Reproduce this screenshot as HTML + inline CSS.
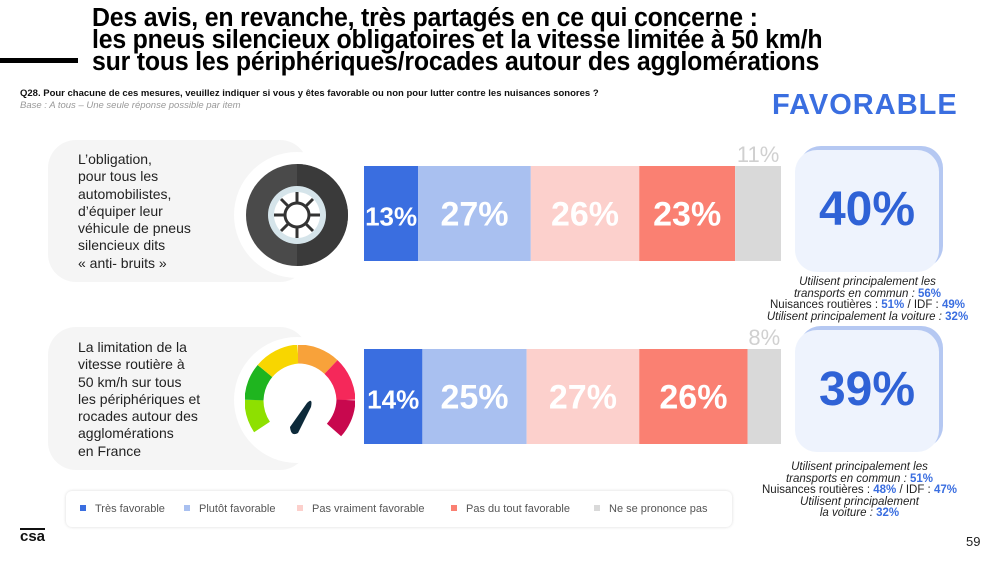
<!DOCTYPE html>
<html><head><meta charset="utf-8">
<style>
body{margin:0;width:999px;height:562px;background:#fff;position:relative;overflow:hidden;font-family:"Century Gothic","Liberation Sans","DejaVu Sans",sans-serif;}
.abs{position:absolute;}
.title{left:92px;top:7px;font-size:24.5px;font-weight:bold;line-height:21px;color:#000;letter-spacing:-0.2px;font-family:"Liberation Sans",sans-serif;transform:scale(1.015,1.05);transform-origin:left top;}
.q{left:20px;top:88px;font-size:9.5px;font-weight:bold;color:#111;font-family:"Liberation Sans",sans-serif;}
.base{left:20px;top:100px;font-size:9.5px;font-style:italic;color:#999;font-family:"Liberation Sans",sans-serif;}
.fav{left:772px;top:89px;font-size:29px;font-weight:bold;color:#3a6ee0;letter-spacing:1px;font-family:"Liberation Sans",sans-serif;}
.panel{background:#f5f5f5;border-radius:28px;}
.lbl{font-size:14px;line-height:17.3px;color:#222;font-family:"Liberation Sans",sans-serif;}
.iconbg{background:#fff;border-radius:50%;}
.box{background:#eef3fd;border-radius:22px;box-shadow:4px -4px 0 #b5c8f2;}
.big{font-size:48px;font-weight:bold;color:#2f62d6;text-align:center;font-family:"Liberation Sans",sans-serif;}
.note{font-size:11.5px;line-height:11.5px;color:#222;text-align:center;font-family:"Liberation Sans",sans-serif;}
.note i{font-style:italic}
.note b{color:#3a6ee0}
.legend{left:66px;top:491px;width:666px;height:36px;border-radius:6px;box-shadow:0 0 3px rgba(0,0,0,0.15);background:#fff;}
.li{position:absolute;top:12px;font-size:11px;color:#555;font-family:"Liberation Sans",sans-serif;}
.li span{display:inline-block;width:6px;height:6px;margin-right:9px;vertical-align:1px;}
</style></head><body>
<div class="abs" style="left:0;top:58px;width:78px;height:5px;background:#000"></div>
<div class="abs title">Des avis, en revanche, très partagés en ce qui concerne :<br>les pneus silencieux obligatoires et la vitesse limitée à 50 km/h<br>sur tous les périphériques/rocades autour des agglomérations</div>
<div class="abs q">Q28. Pour chacune de ces mesures, veuillez indiquer si vous y êtes favorable ou non pour lutter contre les nuisances sonores ?</div>
<div class="abs base">Base : A tous – Une seule réponse possible par item</div>
<div class="abs fav">FAVORABLE</div>

<div class="abs panel" style="left:48px;top:140px;width:260px;height:142px"></div>
<div class="abs lbl" style="left:78px;top:151px">L’obligation,<br>pour tous les<br>automobilistes,<br>d’équiper leur<br>véhicule de pneus<br>silencieux dits<br>« anti- bruits »</div>
<div class="abs iconbg" style="left:234px;top:152px;width:126px;height:126px"></div>
<svg class="abs" style="left:245px;top:160px" width="110" height="110" viewBox="0 0 110 110">
<circle cx="52" cy="55" r="51" fill="#4a4a4a"/><path d="M52 4 A51 51 0 0 1 52 106Z" fill="#3a3a3a"/>
<circle cx="52" cy="55" r="29" fill="#d5e4ea"/><circle cx="52" cy="55" r="23" fill="#fff"/>
<g stroke="#333" stroke-width="3"><line x1="29" y1="55" x2="75" y2="55"/><line x1="52" y1="32" x2="52" y2="78"/><line x1="36" y1="39" x2="68" y2="71"/><line x1="68" y1="39" x2="36" y2="71"/></g>
<circle cx="52" cy="55" r="12" fill="#fff" stroke="#333" stroke-width="3"/></svg>

<div class="abs panel" style="left:48px;top:327px;width:260px;height:143px"></div>
<div class="abs lbl" style="left:78px;top:339px">La limitation de la<br>vitesse routière à<br>50 km/h sur tous<br>les périphériques et<br>rocades autour des<br>agglomérations<br>en France</div>
<div class="abs iconbg" style="left:234px;top:337px;width:126px;height:126px"></div>
<svg class="abs" style="left:245px;top:345px" width="110" height="100" viewBox="0 0 110 100">
<g fill="none" stroke-width="19">
<path d="M17 82 A48 48 0 0 1 9 55" stroke="#8ee000"/><path d="M9 55 A48 48 0 0 1 20 26" stroke="#1fb51f"/>
<path d="M20 26 A48 48 0 0 1 53 9" stroke="#f8d600"/><path d="M53 9 A48 48 0 0 1 86 22" stroke="#f8a23a"/>
<path d="M86 22 A48 48 0 0 1 101 55" stroke="#f5285a"/><path d="M101 55 A48 48 0 0 1 89 85" stroke="#c8084e"/></g>
<path d="M45 82 L62 58 Q68 52 66 62 L53 88 Q46 92 45 82Z" fill="#0d2a3a"/></svg>

<svg class="abs" style="left:0;top:0" width="999" height="562" id="chart"></svg>

<div class="abs box" style="left:795px;top:150px;width:144px;height:122px"></div>
<div class="abs big" style="left:795px;top:182px;width:144px">40%</div>
<div class="abs box" style="left:795px;top:330px;width:144px;height:122px"></div>
<div class="abs big" style="left:795px;top:362px;width:144px">39%</div>

<div class="abs note" style="left:740px;top:277px;width:255px"><i>Utilisent principalement les<br>transports en commun : </i><b>56%</b><br>Nuisances routières : <b>51%</b> / IDF : <b>49%</b><br><i>Utilisent principalement la voiture : </i><b>32%</b></div>
<div class="abs note" style="left:732px;top:462px;width:255px"><i>Utilisent principalement les<br>transports en commun : </i><b>51%</b><br>Nuisances routières : <b>48%</b> / IDF : <b>47%</b><br><i>Utilisent principalement<br>la voiture : </i><b>32%</b></div>

<div class="abs legend">
<div class="li" style="left:14px"><span style="background:#3a6ee0"></span>Très favorable</div>
<div class="li" style="left:118px"><span style="background:#a9c0f0"></span>Plutôt favorable</div>
<div class="li" style="left:231px"><span style="background:#fcd0cc"></span>Pas vraiment favorable</div>
<div class="li" style="left:385px"><span style="background:#fa8072"></span>Pas du tout favorable</div>
<div class="li" style="left:528px"><span style="background:#d9d9d9"></span>Ne se prononce pas</div>
</div>
<div class="abs" style="left:20px;top:528px;font-size:15px;font-weight:bold;color:#111;border-top:2px solid #111;line-height:14px;font-family:'Liberation Sans',sans-serif">csa</div>
<div class="abs" style="left:966px;top:534px;font-size:13px;color:#222;font-family:'Liberation Sans',sans-serif">59</div>

<script>
const items = ["pneus", "vitesse"];
const tresFav = [13, 14];
const plutotFav = [27, 25];
const pasVraiment = [26, 27];
const pasDuTout = [23, 26];
const nsp = [11, 8];
const series = [tresFav, plutotFav, pasVraiment, pasDuTout, nsp];
const seriesNames = ["tres-favorable","plutot-favorable","pas-vraiment","pas-du-tout","ne-se-prononce"];
const colors = ["#3a6ee0","#a9c0f0","#fcd0cc","#fa8072","#d9d9d9"];
const x0 = 364, pxPer = 4.17;
const rowTop = [166, 349], barH = 95;
const xs = v => x0 + v * pxPer;
const svg = document.getElementById('chart');
const NS = "http://www.w3.org/2000/svg";
items.forEach((it, i) => {
  let acc = 0;
  series.forEach((s, k) => {
    const v = s[i];
    const r = document.createElementNS(NS, 'rect');
    r.setAttribute('x', xs(acc)); r.setAttribute('y', rowTop[i]);
    r.setAttribute('width', v * pxPer); r.setAttribute('height', barH);
    r.setAttribute('fill', colors[k]);
    
    
    svg.appendChild(r);
    const t = document.createElementNS(NS, 'text');
    const last = k === series.length - 1;
    t.setAttribute('x', xs(acc + v / 2));
    t.setAttribute('y', last ? rowTop[i] - 4 : rowTop[i] + barH / 2 + 12);
    t.setAttribute('text-anchor', 'middle');
    t.setAttribute('font-family', 'Liberation Sans, sans-serif');
    t.setAttribute('font-size', last ? 22 : (v < 16 ? 26 : 34));
    t.setAttribute('font-weight', last ? 'normal' : 'bold');
    t.setAttribute('fill', last ? '#d0d0d0' : '#fff');
    t.textContent = v + '%';
    
    
    svg.appendChild(t);
    acc += v;
  });
});
</script>
</body></html>
